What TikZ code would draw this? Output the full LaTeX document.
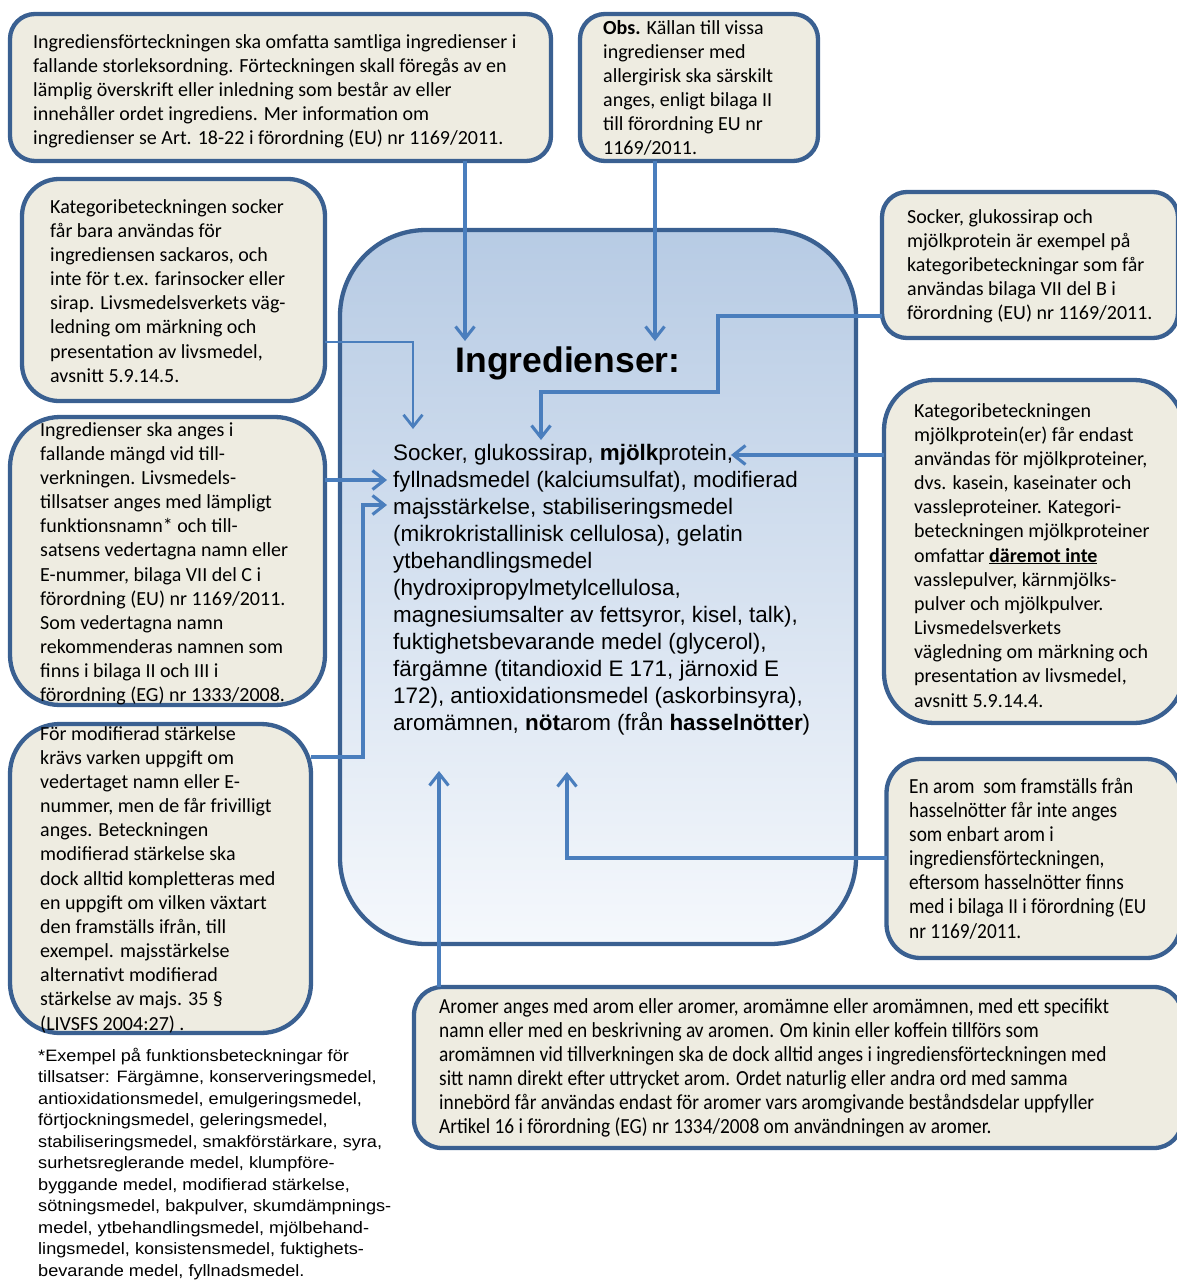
\documentclass[tikz,border=0pt]{standalone}
\usepackage{fontspec}
\usetikzlibrary{arrows.meta}
\newfontfamily\carlito{Carlito}
\newfontfamily\carlitonarrow[FakeStretch=0.9]{Carlito}
\newfontfamily\arial{Liberation Sans}
\newfontfamily\arialwide[FakeStretch=1.1]{Liberation Sans}
\definecolor{bordercol}{HTML}{3A6091}
\definecolor{conncol}{HTML}{4A7EBD}
\definecolor{boxfill}{HTML}{EEECE1}
\definecolor{gradtop}{HTML}{B7CBE4}
\definecolor{gradbot}{HTML}{F5F8FC}
% baseline distance inside the annotation boxes
\newcommand\lsk{24.17}
\begin{document}
\begin{tikzpicture}[x=1pt,y=-1pt,
  box/.style={draw=bordercol, line width=4.3pt, fill=boxfill, rounded corners=#1,
    inner sep=0pt, outer sep=0pt},
  boxtext/.style={font=\carlito\fontsize{20}{\lsk}\selectfont, align=left, inner sep=0pt,
    anchor=base west},
  narrowtext/.style={font=\carlitonarrow\fontsize{21.5}{\lsk}\selectfont, align=left,
    inner sep=0pt, anchor=base west},
  conn/.style={draw=conncol, line width=3.1pt,
    -{Straight Barb[length=12pt,width=19pt]}},
  thinconn/.style={draw=conncol, line width=1.8pt,
    -{Straight Barb[length=12pt,width=19pt,line width=2.8pt]}}]
\useasboundingbox (0,0) rectangle (1177,1280);
\fill[white] (0,0) rectangle (1177,1280);

% central ingredient list (text anchors sit on the last baseline)
\node[draw=bordercol, line width=4.3pt, rounded corners=86pt,
  top color=gradtop, bottom color=gradbot, inner sep=0pt,
  minimum width=516pt, minimum height=714pt] (c) at (598,587) {};
\node[font=\arial\bfseries\fontsize{35.5}{40}\selectfont, anchor=base, inner sep=0pt]
  (title) at (568,372) {Ingredienser:};
\node[font=\arial\fontsize{22.4}{27}\selectfont, align=left, inner sep=0pt,
  anchor=base west] (list) at (393,460+10*27) {%
Socker, glukossirap, \textbf{mjölk}protein,\\
fyllnadsmedel (kalciumsulfat), modifierad\\
majsstärkelse, stabiliseringsmedel\\
(mikrokristallinisk cellulosa), gelatin\\
ytbehandlingsmedel\\
(hydroxipropylmetylcellulosa,\\
magnesiumsalter av fettsyror, kisel, talk),\\
fuktighetsbevarande medel (glycerol),\\
färgämne (titandioxid E 171, järnoxid E\\
172), antioxidationsmedel (askorbinsyra),\\
aromämnen, \textbf{nöt}arom (från \textbf{hasselnötter})};

% annotation boxes
\node[box=25pt, minimum width=541pt, minimum height=147pt] (b1) at (280.5,87.5) {};
\node[boxtext] (t1) at (33,48+4*\lsk) {%
Ingrediensförteckningen ska omfatta samtliga ingredienser i\\
fallande storleksordning. Förteckningen skall föregås av en\\
lämplig överskrift eller inledning som består av eller\\
innehåller ordet ingrediens. Mer information om\\
ingredienser se Art. 18-22 i förordning (EU) nr 1169/2011.};

\node[box=25pt, minimum width=238pt, minimum height=147pt] (b2) at (699,87.5) {};
\node[boxtext] (t2) at (603,34+5*\lsk) {%
\textbf{Obs.} Källan till vissa\\
ingredienser med\\
allergirisk ska särskilt\\
anges, enligt bilaga II\\
till förordning EU nr\\
1169/2011.};

\node[box=37pt, minimum width=303pt, minimum height=222pt] (b3) at (173.5,290) {};
\node[boxtext] (t3) at (50,213+7*\lsk) {%
Kategoribeteckningen socker\\
får bara användas för\\
ingrediensen sackaros, och\\
inte för t.ex. farinsocker eller\\
sirap. Livsmedelsverkets väg-\\
ledning om märkning och\\
presentation av livsmedel,\\
avsnitt 5.9.14.5.};

\node[box=50pt, minimum width=315pt, minimum height=288pt] (b4) at (167.5,561) {};
\node[boxtext] (t4) at (40,436+11*\lsk) {%
Ingredienser ska anges i\\
fallande mängd vid till-\\
verkningen. Livsmedels-\\
tillsatser anges med lämpligt\\
funktionsnamn* och till-\\
satsens vedertagna namn eller\\
E-nummer, bilaga VII del C i\\
förordning (EU) nr 1169/2011.\\
Som vedertagna namn\\
rekommenderas namnen som\\
finns i bilaga II och III i\\
förordning (EG) nr 1333/2008.};

\node[box=50pt, minimum width=301pt, minimum height=309pt] (b5) at (160.5,878.5) {};
\node[boxtext] (t5) at (40,740+12*\lsk) {%
För modifierad stärkelse\\
krävs varken uppgift om\\
vedertaget namn eller E-\\
nummer, men de får frivilligt\\
anges. Beteckningen\\
modifierad stärkelse ska\\
dock alltid kompletteras med\\
en uppgift om vilken växtart\\
den framställs ifrån, till\\
exempel. majsstärkelse\\
alternativt modifierad\\
stärkelse av majs. 35 §\\
(LIVSFS 2004:27) .};

\node[box=25pt, minimum width=296pt, minimum height=146pt] (b7) at (1030,265) {};
\node[boxtext] (t7) at (907,223+4*\lsk) {%
Socker, glukossirap och\\
mjölkprotein är exempel på\\
kategoribeteckningar som får\\
användas bilaga VII del B i\\
förordning (EU) nr 1169/2011.};

\node[box=50pt, minimum width=300pt, minimum height=343pt] (b8) at (1034,551.5) {};
\node[boxtext] (t8) at (914,417+12*\lsk) {%
Kategoribeteckningen\\
mjölkprotein(er) får endast\\
användas för mjölkproteiner,\\
dvs. kasein, kaseinater och\\
vassleproteiner. Kategori-\\
beteckningen mjölkproteiner\\
omfattar \underline{\textbf{däremot inte}}\\
vasslepulver, kärnmjölks-\\
pulver och mjölkpulver.\\
Livsmedelsverkets\\
vägledning om märkning och\\
presentation av livsmedel,\\
avsnitt 5.9.14.4.};

\node[box=34pt, minimum width=294pt, minimum height=199pt] (b9) at (1033.5,858.5) {};
\node[narrowtext] (t9) at (909,793+6*\lsk) {%
En arom\ \ som framställs från\\
hasselnötter får inte anges\\
som enbart arom i\\
ingrediensförteckningen,\\
eftersom hasselnötter finns\\
med i bilaga II i förordning (EU\\
nr 1169/2011.};

\node[box=28pt, minimum width=768pt, minimum height=161pt] (b10) at (798,1067.5) {};
\node[narrowtext] (t10) at (439,1013+5*\lsk) {%
Aromer anges med arom eller aromer, aromämne eller aromämnen, med ett specifikt\\
namn eller med en beskrivning av aromen. Om kinin eller koffein tillförs som\\
aromämnen vid tillverkningen ska de dock alltid anges i ingrediensförteckningen med\\
sitt namn direkt efter uttrycket arom. Ordet naturlig eller andra ord med samma\\
innebörd får användas endast för aromer vars aromgivande beståndsdelar uppfyller\\
Artikel 16 i förordning (EG) nr 1334/2008 om användningen av aromer.};

% footnote on function names
\node[font=\arialwide\fontsize{16.5}{21.5}\selectfont, align=left, inner sep=0pt,
  anchor=base west] (note) at (38,1061+10*21.5) {%
*Exempel på funktionsbeteckningar för\\
tillsatser: Färgämne, konserveringsmedel,\\
antioxidationsmedel, emulgeringsmedel,\\
förtjockningsmedel, geleringsmedel,\\
stabiliseringsmedel, smakförstärkare, syra,\\
surhetsreglerande medel, klumpföre-\\
byggande medel, modifierad stärkelse,\\
sötningsmedel, bakpulver, skumdämpnings-\\
medel, ytbehandlingsmedel, mjölbehand-\\
lingsmedel, konsistensmedel, fuktighets-\\
bevarande medel, fyllnadsmedel.};

% connector bends and arrow tips
\coordinate (kA) at (465,341);
\coordinate (kB) at (655,341);
\coordinate (kC1) at (718,316);
\coordinate (kC2) at (718,392);
\coordinate (kC3) at (541,392);
\coordinate (kC) at (541,440);
\coordinate (kD1) at (413,342);
\coordinate (kD) at (413,429);
\coordinate (kE) at (387,480);
\coordinate (kF1) at (363,757);
\coordinate (kF2) at (363,505);
\coordinate (kF) at (387,505);
\coordinate (kG) at (731,455);
\coordinate (kH1) at (567,858);
\coordinate (kH) at (567,772);
\coordinate (kI) at (439,771);

\draw[conn] (b1.south -| kA) -- (kA);
\draw[conn] (b2.south -| kB) -- (kB);
\draw[conn] (b7.west |- kC1) -- (kC1) -- (kC2) -- (kC3) -- (kC);
\draw[thinconn] (b3.east |- kD1) -- (kD1) -- (kD);
\draw[conn] (b4.east |- kE) -- (kE);
\draw[conn] (b5.east |- kF1) -- (kF1) -- (kF2) -- (kF);
\draw[conn] (b8.west |- kG) -- (kG);
\draw[conn] (b9.west |- kH1) -- (kH1) -- (kH);
\draw[conn] (b10.north -| kI) -- (kI);
\end{tikzpicture}
\end{document}
